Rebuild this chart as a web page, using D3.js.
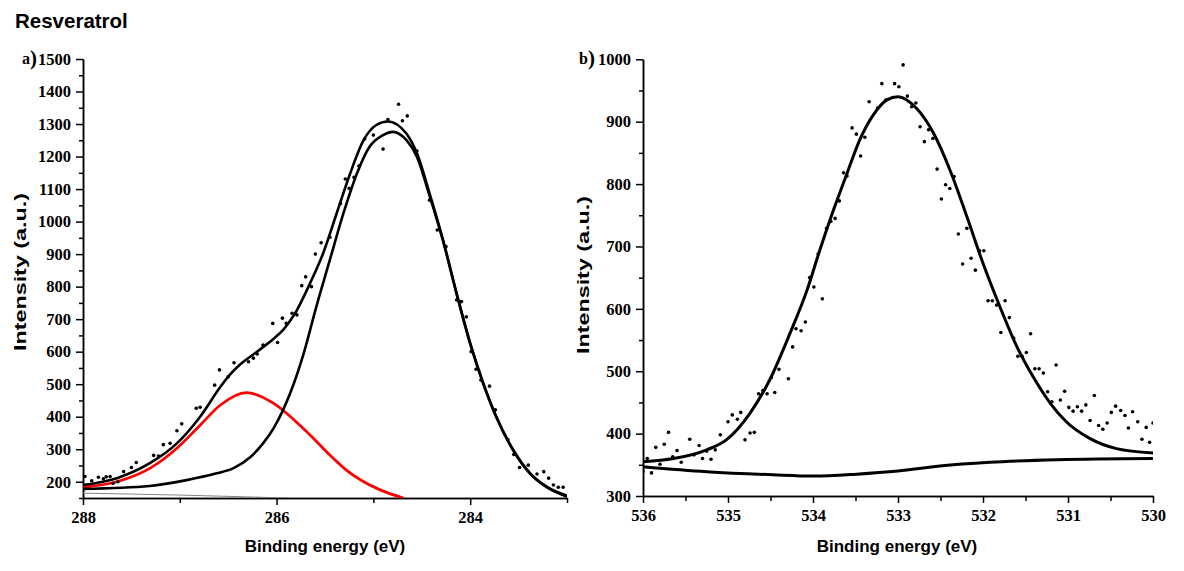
<!DOCTYPE html>
<html>
<head>
<meta charset="utf-8">
<script src="https://cdn.jsdelivr.net/npm/d3@7"></script>
<style>
  body { margin: 0; background: #fff; }
</style>
</head>
<body>
<svg id="vis" width="1184" height="571"></svg>
<script>
// ---- panel a) C 1s ----
const xTicksA = [288, 286, 284];
const xMinorA = [287, 285, 283];
const yTicksA = [200, 300, 400, 500, 600, 700, 800, 900, 1000, 1100, 1200, 1300, 1400, 1500];
const yMinorA = [150, 250, 350, 450, 550, 650, 750, 850, 950, 1050, 1150, 1250, 1350, 1450];

const envelopeA = [[288.00,190],[287.65,211],[287.31,257],[287.03,318],[286.79,400],[286.58,492],
  [286.48,530],[286.38,560],[286.27,585],[286.14,614],[286.03,640],[285.93,668],[285.86,695],
  [285.79,728],[285.655,810],[285.52,902],[285.38,1025],[285.24,1148],[285.10,1251],[284.97,1297],
  [284.85,1308],[284.66,1271],[284.55,1210],[284.42,1087],[284.28,943],[284.14,779],[284.00,626],
  [283.865,503],[283.73,400],[283.555,298],[283.38,226],[283.21,185],[283.00,157]];

const componentA = [[288.00,178],[287.31,187],[286.93,205],[286.62,226],[286.45,241],[286.27,276],
  [286.14,318],[286.03,365],[285.86,472],[285.72,595],[285.59,738],[285.45,882],[285.31,1025],
  [285.17,1148],[285.04,1230],[284.90,1266],[284.80,1276],[284.66,1251],[284.55,1199],[284.42,1080],
  [284.28,940],[284.14,777],[284.00,624],[283.865,501],[283.73,398],[283.555,296],[283.38,224],
  [283.21,183],[283.00,154]];

const redA = [[288.00,183],[287.65,200],[287.31,241],[287.03,303],[286.79,374],[286.58,436],
  [286.31,474],[286.03,441],[285.76,374],[285.62,334],[285.45,282],[285.28,236],
  [285.10,200],[284.93,175],[284.69,150]];

const greyA = [[288.0,165],[287.5,162],[287.0,159],[286.5,155],[286.0,151],[285.9,150]];

const pointsA = [[287.98,216],[287.91,203],[287.84,214],[287.79,209],[287.76,215],[287.72,216],
  [287.69,195],[287.64,200],[287.58,231],[287.50,244],[287.45,259],[287.27,281],[287.22,279],
  [287.17,314],[287.10,318],[287.03,357],[286.98,378],[286.83,426],[286.79,429],[286.64,497],
  [286.59,544],[286.50,523],[286.44,566],[286.29,569],[286.24,580],[286.20,593],[286.14,620],
  [286.04,687],[285.99,628],[285.94,703],[285.90,687],[285.84,718],[285.79,713],[285.74,803],
  [285.70,830],[285.64,800],[285.60,900],[285.54,935],[285.45,952],[285.34,1056],[285.29,1131],
  [285.25,1102],[285.20,1136],[285.15,1171],[285.09,1254],[285.00,1266],[284.90,1223],[284.85,1314],
  [284.74,1361],[284.70,1310],[284.65,1325],[284.55,1217],[284.42,1066],[284.34,974],[284.25,923],
  [284.14,759],[284.09,754],[284.04,707],[283.99,600],[283.94,546],[283.89,513],[283.80,494],
  [283.74,421],[283.61,330],[283.55,284],[283.49,244],[283.40,251],[283.31,224],[283.24,231],
  [283.19,211],[283.14,190],[283.09,183],[283.04,183]];

// ---- panel b) O 1s ----
const xTicksB = [536, 535, 534, 533, 532, 531, 530];
const xMinorB = [535.5, 534.5, 533.5, 532.5, 531.5, 530.5];
const yTicksB = [300, 400, 500, 600, 700, 800, 900, 1000];
const yMinorB = [350, 450, 550, 650, 750, 850, 950];

const envelopeB = [[536.00,355],[535.64,360],[535.25,374],[535.02,390],[534.74,433],[534.51,486],
  [534.27,561],[534.07,630],[533.92,694],[533.76,758],[533.60,817],[533.45,871],[533.29,911],
  [533.13,935],[533.00,940],[532.78,921],[532.58,881],[532.39,823],[532.19,748],[532.00,673],
  [531.80,603],[531.60,539],[531.41,491],[531.21,449],[531.02,419],[530.74,392],[530.43,376],
  [530.00,369]];

const backgroundB = [[536.00,347],[535.25,339],[534.47,334],[534.00,332],[533.49,335],[533.00,340],
  [532.51,348],[531.92,354],[531.13,358],[530.00,360]];

const pointsB = [[536.00,339],[535.95,360],[535.90,337],[535.85,378],[535.80,351],[535.75,383],
  [535.70,402],[535.65,363],[535.60,373],[535.55,354],[535.45,391],[535.40,366],[535.34,381],
  [535.30,360],[535.25,372],[535.20,359],[535.15,374],[535.09,398],[535.00,419],[534.95,430],
  [534.89,423],[534.85,434],[534.80,390],[534.74,401],[534.69,402],[534.64,464],[534.59,469],
  [534.54,464],[534.49,490],[534.45,466],[534.40,503],[534.29,488],[534.24,539],[534.20,568],
  [534.14,565],[534.09,579],[534.04,650],[533.99,635],[533.94,688],[533.89,616],[533.84,729],
  [533.79,740],[533.74,745],[533.69,773],[533.64,818],[533.60,813],[533.54,890],[533.49,880],
  [533.44,845],[533.39,875],[533.34,932],[533.24,922],[533.19,961],[533.14,935],[533.04,961],
  [532.99,956],[532.94,991],[532.89,941],[532.84,924],[532.79,930],[532.74,892],[532.69,868],
  [532.64,887],[532.59,873],[532.54,824],[532.49,776],[532.44,799],[532.39,793],[532.34,812],
  [532.29,720],[532.24,672],[532.19,729],[532.14,681],[532.09,662],[532.04,693],[531.99,693],
  [531.94,613],[531.89,613],[531.84,606],[531.79,562],[531.74,613],[531.69,586],[531.64,553],
  [531.59,524],[531.54,524],[531.49,530],[531.44,560],[531.39,504],[531.34,504],[531.29,497],
  [531.24,467],[531.19,451],[531.14,510],[531.09,454],[531.04,468],[530.99,442],[530.94,436],
  [530.89,443],[530.84,436],[530.79,446],[530.74,421],[530.69,461],[530.64,413],[530.59,407],
  [530.54,417],[530.49,434],[530.44,444],[530.38,437],[530.33,429],[530.29,409],[530.24,435],
  [530.18,419],[530.13,391],[530.08,410],[530.04,386],[530.00,417]];

const svg = d3.select("#vis");
const serif = "'Liberation Serif', 'Times New Roman', serif";
const sans = "'Liberation Sans', Arial, sans-serif";

svg.append("text")
    .attr("x", 15).attr("y", 28)
    .attr("font-family", sans).attr("font-weight", "bold").attr("font-size", 20.5)
    .text("Resveratrol");

function styleAxis(g) {
  g.selectAll("path, line").attr("stroke", "#000").attr("stroke-width", 1.5);
  g.selectAll("text")
    .attr("fill", "#000")
    .attr("font-family", serif)
    .attr("font-weight", "bold")
    .attr("font-size", 16.5);
}

function drawPanel(p) {
  const x = d3.scaleLinear().domain(p.xDomain).range(p.xRange);
  const y = d3.scaleLinear().domain(p.yDomain).range(p.yRange);
  const g = svg.append("g");
  const bottom = p.yRange[0];
  const left = p.xRange[0];

  g.append("g")
      .attr("transform", `translate(0,${bottom})`)
      .call(d3.axisBottom(x).tickValues(p.xMinor).tickSize(5).tickSizeOuter(0).tickFormat(""))
      .call(styleAxis);
  g.append("g")
      .attr("transform", `translate(0,${bottom})`)
      .call(d3.axisBottom(x).tickValues(p.xTicks).tickSize(7).tickPadding(6).tickSizeOuter(0)
        .tickFormat(d3.format("d")))
      .call(styleAxis);
  g.append("g")
      .attr("transform", `translate(${left},0)`)
      .call(d3.axisLeft(y).tickValues(p.yMinor).tickSize(4).tickSizeOuter(0).tickFormat(""))
      .call(styleAxis);
  g.append("g")
      .attr("transform", `translate(${left},0)`)
      .call(d3.axisLeft(y).tickValues(p.yTicks).tickSize(7).tickPadding(5).tickSizeOuter(0)
        .tickFormat(d3.format("d")))
      .call(styleAxis);

  const clipId = "clip" + p.id;
  svg.append("clipPath").attr("id", clipId)
    .append("rect")
      .attr("x", left).attr("y", p.yRange[1])
      .attr("width", p.xRange[1] - left).attr("height", bottom - p.yRange[1]);

  const plot = g.append("g").attr("clip-path", `url(#${clipId})`);
  const line = d3.line()
      .x(d => x(d[0]))
      .y(d => y(d[1]))
      .curve(d3.curveMonotoneX);

  for (const s of p.series) {
    plot.append("path")
        .datum(s.data)
        .attr("fill", "none")
        .attr("stroke", s.color)
        .attr("stroke-width", s.width)
        .attr("stroke-linejoin", "round")
        .attr("d", line);
  }

  plot.append("g")
    .selectAll("circle")
    .data(p.points)
    .join("circle")
      .attr("cx", d => x(d[0]))
      .attr("cy", d => y(d[1]))
      .attr("r", 1.8)
      .attr("fill", "#000");

  // panel letter
  const tag = g.append("text")
      .attr("x", p.tag.x).attr("y", p.tag.y)
      .attr("font-family", serif).attr("font-weight", "bold").attr("font-size", 16);
  tag.append("tspan").text(p.tag.text);
  tag.append("tspan").attr("font-size", 21).attr("dy", 1).text(")");

  g.append("text")
      .attr("x", p.xLabel.x).attr("y", p.xLabel.y)
      .attr("text-anchor", "middle")
      .attr("font-family", sans).attr("font-weight", "bold").attr("font-size", 17)
      .text("Binding energy (eV)");

  g.append("text")
      .attr("transform", `translate(${p.yLabel.x},${p.yLabel.y}) rotate(-90)`)
      .attr("text-anchor", "middle")
      .attr("font-family", sans).attr("font-weight", "bold").attr("font-size", 17)
      .attr("textLength", 158).attr("lengthAdjust", "spacingAndGlyphs")
      .text("Intensity (a.u.)");
}

drawPanel({
  id: "a",
  xDomain: [288, 283], xRange: [83, 567],
  yDomain: [150, 1500], yRange: [498, 59],
  xTicks: xTicksA, xMinor: xMinorA, yTicks: yTicksA, yMinor: yMinorA,
  series: [
    {data: greyA, color: "#777", width: 0.9},
    {data: redA, color: "#f00", width: 2.8},
    {data: componentA, color: "#000", width: 2.6},
    {data: envelopeA, color: "#000", width: 2.6}
  ],
  points: pointsA,
  tag: {x: 22, y: 64, text: "a"},
  xLabel: {x: 325, y: 552},
  yLabel: {x: 26, y: 272}
});

drawPanel({
  id: "b",
  xDomain: [536, 530], xRange: [643, 1153],
  yDomain: [300, 1000], yRange: [496, 59.3],
  xTicks: xTicksB, xMinor: xMinorB, yTicks: yTicksB, yMinor: yMinorB,
  series: [
    {data: backgroundB, color: "#000", width: 3},
    {data: envelopeB, color: "#000", width: 3}
  ],
  points: pointsB,
  tag: {x: 579, y: 64, text: "b"},
  xLabel: {x: 897, y: 552},
  yLabel: {x: 589, y: 275}
});
</script>
</body>
</html>
